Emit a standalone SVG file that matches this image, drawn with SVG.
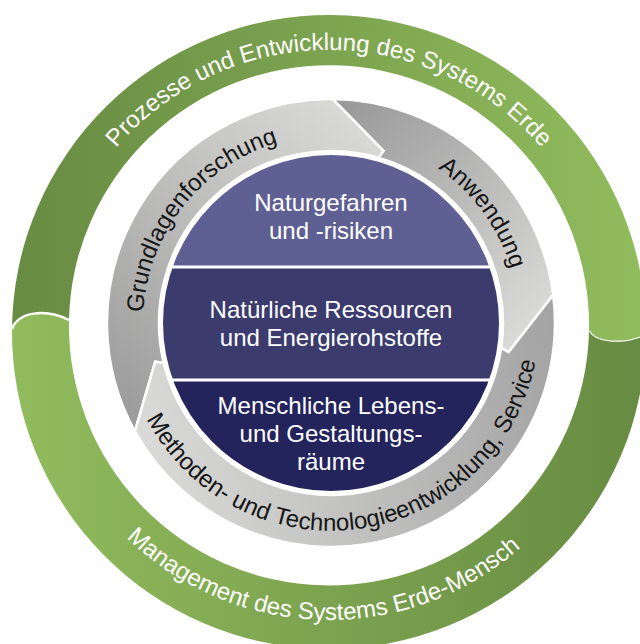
<svg xmlns="http://www.w3.org/2000/svg" width="640" height="644" viewBox="0 0 640 644">
<style>
.t{font-family:"Liberation Sans",Arial,Helvetica,sans-serif;font-size:24px}
.w{fill:#ffffff}
.k{fill:#161616}
.c{text-anchor:middle}
.seg{stroke:#ffffff;stroke-width:2.5;stroke-linejoin:miter}
.cap{fill:none;stroke:#ffffff;stroke-width:2.5}
</style>
<defs>
<linearGradient id="gTop" gradientUnits="userSpaceOnUse" x1="10" y1="0" x2="640" y2="0">
<stop offset="0" stop-color="#678b42"/><stop offset="1" stop-color="#91bc5d"/>
</linearGradient>
<linearGradient id="gBot" gradientUnits="userSpaceOnUse" x1="10" y1="0" x2="640" y2="0">
<stop offset="0" stop-color="#91bc5d"/><stop offset="1" stop-color="#678b42"/>
</linearGradient>
<linearGradient id="gA" gradientUnits="userSpaceOnUse" x1="140" y1="420" x2="380" y2="130">
<stop offset="0" stop-color="#9d9d9d"/><stop offset="1" stop-color="#dadad8"/>
</linearGradient>
<linearGradient id="gB" gradientUnits="userSpaceOnUse" x1="350" y1="100" x2="540" y2="320">
<stop offset="0" stop-color="#9a9a9a"/><stop offset="1" stop-color="#dadad9"/>
</linearGradient>
<linearGradient id="gC" gradientUnits="userSpaceOnUse" x1="560" y1="330" x2="140" y2="410">
<stop offset="0" stop-color="#a3a3a3"/><stop offset="1" stop-color="#d9d9d8"/>
</linearGradient>
<clipPath id="blueClip"><circle cx="331" cy="323" r="169"/></clipPath>
<path id="pTop" d="M 49 330 A 280 280 0 0 1 609 330"/>
<path id="pBot" d="M 39 330 A 290 290 0 0 0 619 330"/>
<path id="pGrund" d="M 156.2 392.2 A 188 188 0 0 1 358.5 137.0"/>
<path id="pAnw" d="M 376.5 140.6 A 188 188 0 0 1 518.5 336.1"/>
<path id="pMeth" d="M 133.8 389 A 208 208 0 0 0 538.9 328.4"/>
</defs>

<g id="green-top">
<path d="M 12 329 A 317 317 0 1 1 646 335 C 625 346 594 343 589 331 A 260 260 0 1 0 69 320 C 45 308 18 312 12 329 Z" fill="url(#gTop)"/>
<path class="cap" d="M 589 331 C 594 343 625 346 646 335"/>
<text class="t w c"><textPath href="#pTop" startOffset="50%">Prozesse und Entwicklung des Systems Erde</textPath></text>
</g>

<g id="green-bottom">
<path d="M 12 329 C 18 312 45 308 69 320 A 260 260 0 0 0 589 331 C 594 343 625 346 646 335 A 317 317 0 0 1 12 329 Z" fill="url(#gBot)"/>
<path class="cap" d="M 12 329 C 18 312 45 308 69 320"/>
<text class="t w c"><textPath href="#pBot" startOffset="49.2%">Management des Systems Erde-Mensch</textPath></text>
</g>

<g id="seg-grundlagenforschung">
<path class="seg" fill="url(#gA)" d="M 134.9 431.3 A 224 224 0 0 1 332.95 99.01 L 383.6 150.9 L 378.4 157.7 A 172 172 0 0 0 163.7 362.9 L 155.2 361.7 Z"/>
<text class="t k c"><textPath href="#pGrund" startOffset="50%">Grundlagenforschung</textPath></text>
</g>

<g id="seg-anwendung">
<path class="seg" fill="url(#gB)" d="M 332.95 99.01 A 224 224 0 0 1 553.2 294.9 L 508.6 352.1 L 501.2 347.8 A 172 172 0 0 0 378.4 157.7 L 383.6 150.9 Z"/>
<text class="t k c"><textPath href="#pAnw" startOffset="50%">Anwendung</textPath></text>
</g>

<g id="seg-methoden">
<path class="seg" fill="url(#gC)" d="M 553.2 294.9 A 224 224 0 0 1 134.9 431.3 L 155.2 361.7 L 163.7 362.9 A 172 172 0 0 0 501.2 347.8 L 508.6 352.1 Z"/>
<text class="t k c"><textPath href="#pMeth" startOffset="50%">Methoden- und Technologieentwicklung, Service</textPath></text>
</g>

<g id="blue-core" clip-path="url(#blueClip)">
<g id="naturgefahren">
<rect x="160" y="150" width="345" height="117" fill="#5e5f93"/>
<text class="t w c" x="331" y="211">Naturgefahren</text>
<text class="t w c" x="331" y="239">und -risiken</text>
</g>
<g id="ressourcen">
<rect x="160" y="267" width="345" height="113" fill="#3b3b6e"/>
<text class="t w c" x="331" y="318">Natürliche Ressourcen</text>
<text class="t w c" x="331" y="346">und Energierohstoffe</text>
</g>
<g id="lebensraeume">
<rect x="160" y="380" width="345" height="116" fill="#24245d"/>
<text class="t w c" x="331" y="414">Menschliche Lebens-</text>
<text class="t w c" x="331" y="442">und Gestaltungs-</text>
<text class="t w c" x="331" y="470">räume</text>
</g>
<line x1="160" y1="267" x2="505" y2="267" stroke="#ffffff" stroke-width="3"/>
<line x1="160" y1="380" x2="505" y2="380" stroke="#ffffff" stroke-width="3"/>
</g>
<circle cx="331" cy="323" r="169.5" fill="none" stroke="#ffffff" stroke-width="3"/>

<g id="connectors"/>
</svg>
